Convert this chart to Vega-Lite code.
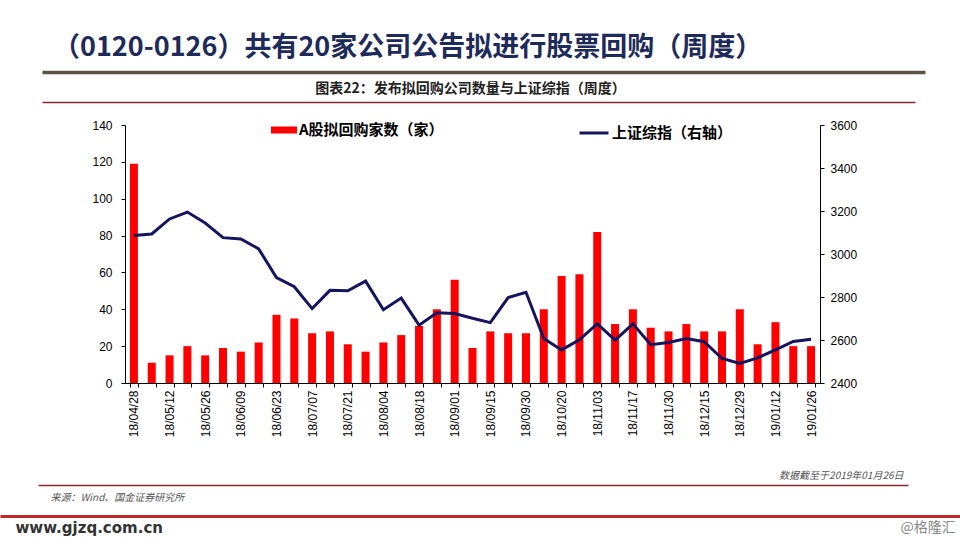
{
  "$schema": "https://vega.github.io/schema/vega-lite/v6.json",
  "width": 883,
  "height": 258,
  "autosize": {"type": "none"},
  "padding": {"left": 42, "top": 125, "right": 35, "bottom": 157},
  "background": "white",
  "title": {
    "text": "（0120-0126）共有20家公司公告拟进行股票回购（周度）",
    "anchor": "start",
    "frame": "group",
    "baseline": "alphabetic",
    "offset": 11,
    "dx": 11,
    "dy": 22,
    "font": "Noto Sans CJK SC",
    "fontSize": 27,
    "fontWeight": "bold",
    "color": "#1E2B5A"
  },
  "data": {
    "values": [
      {"date": "18/04/28", "count": 119, "index": 3086},
      {"date": "18/05/05", "count": 11, "index": 3093},
      {"date": "18/05/12", "count": 15, "index": 3163},
      {"date": "18/05/19", "count": 20, "index": 3195},
      {"date": "18/05/26", "count": 15, "index": 3144},
      {"date": "18/06/02", "count": 19, "index": 3076},
      {"date": "18/06/09", "count": 17, "index": 3070},
      {"date": "18/06/16", "count": 22, "index": 3024},
      {"date": "18/06/23", "count": 37, "index": 2890},
      {"date": "18/06/30", "count": 35, "index": 2848},
      {"date": "18/07/07", "count": 27, "index": 2746},
      {"date": "18/07/14", "count": 28, "index": 2831},
      {"date": "18/07/21", "count": 21, "index": 2829},
      {"date": "18/07/28", "count": 17, "index": 2874},
      {"date": "18/08/04", "count": 22, "index": 2741},
      {"date": "18/08/11", "count": 26, "index": 2795},
      {"date": "18/08/18", "count": 31, "index": 2669},
      {"date": "18/08/25", "count": 40, "index": 2727},
      {"date": "18/09/01", "count": 56, "index": 2723},
      {"date": "18/09/08", "count": 19, "index": 2701},
      {"date": "18/09/15", "count": 28, "index": 2681},
      {"date": "18/09/22", "count": 27, "index": 2797},
      {"date": "18/09/30", "count": 27, "index": 2822},
      {"date": "18/10/13", "count": 40, "index": 2607},
      {"date": "18/10/20", "count": 58, "index": 2554},
      {"date": "18/10/27", "count": 59, "index": 2601},
      {"date": "18/11/03", "count": 82, "index": 2676},
      {"date": "18/11/10", "count": 32, "index": 2599},
      {"date": "18/11/17", "count": 40, "index": 2675},
      {"date": "18/11/24", "count": 30, "index": 2578},
      {"date": "18/11/30", "count": 28, "index": 2588},
      {"date": "18/12/08", "count": 32, "index": 2607},
      {"date": "18/12/15", "count": 28, "index": 2592},
      {"date": "18/12/22", "count": 28, "index": 2514},
      {"date": "18/12/29", "count": 40, "index": 2491},
      {"date": "19/01/05", "count": 21, "index": 2517},
      {"date": "19/01/12", "count": 33, "index": 2554},
      {"date": "19/01/19", "count": 20, "index": 2593},
      {"date": "19/01/26", "count": 20, "index": 2604}
    ]
  },
  "layer": [
    {
      "mark": {"type": "bar"},
      "encoding": {
        "x": {
          "field": "date", "type": "ordinal", "sort": null,
          "scale": {"range": [83, 778], "paddingInner": 0.55, "paddingOuter": 0.275, "align": 0.5},
          "axis": {
            "orient": "bottom", "domain": false, "ticks": true, "tickBand": "extent",
            "tickSize": 4, "tickColor": "#000000",
            "labelAngle": 270, "labelAlign": "right", "labelBaseline": "middle", "labelPadding": 3,
            "labelFont": "Liberation Sans", "labelFontSize": 12, "labelColor": "#000000", "labelOverlap": false,
            "labelExpr": "indexof(['18/04/28','18/05/12','18/05/26','18/06/09','18/06/23','18/07/07','18/07/21','18/08/04','18/08/18','18/09/01','18/09/15','18/09/30','18/10/20','18/11/03','18/11/17','18/11/30','18/12/15','18/12/29','19/01/12','19/01/26'], datum.value) >= 0 ? datum.label : ''",
            "title": "数据截至于2019年01月26日",
            "titleX": 861, "titleY": 92, "titleAlign": "right", "titleBaseline": "middle",
            "titleFont": "Noto Sans CJK SC", "titleFontSize": 10, "titleFontStyle": "italic",
            "titleFontWeight": "normal", "titleColor": "#555555"
          }
        },
        "y": {
          "field": "count", "type": "quantitative",
          "scale": {"domain": [0, 140], "nice": false},
          "axis": {
            "orient": "left", "offset": -83, "values": [0, 20, 40, 60, 80, 100, 120, 140], "format": "d",
            "domain": true, "domainColor": "#000000", "ticks": true, "tickSize": 4, "tickColor": "#000000",
            "labelPadding": 9, "labelFont": "Liberation Sans", "labelFontSize": 12, "labelColor": "#000000",
            "grid": false, "title": null
          }
        },
        "color": {
          "datum": "A股拟回购家数（家）",
          "scale": {"range": ["#FF0000"]},
          "legend": {
            "orient": "none", "legendX": 229, "legendY": -8, "title": null, "padding": 0,
            "symbolType": "M-1,-0.27L1,-0.27L1,0.27L-1,0.27Z", "symbolSize": 676, "symbolStrokeWidth": 0,
            "labelFont": "Noto Sans CJK SC", "labelFontSize": 15, "labelFontWeight": "bold",
            "labelColor": "#000000", "labelOffset": 2, "labelLimit": 300
          }
        }
      }
    },
    {
      "mark": {"type": "line", "strokeWidth": 3},
      "encoding": {
        "x": {
          "field": "date", "type": "ordinal", "sort": null,
          "scale": {"range": [83, 778], "paddingInner": 0.55, "paddingOuter": 0.275, "align": 0.5},
          "axis": null
        },
        "y": {
          "field": "index", "type": "quantitative",
          "scale": {"domain": [2400, 3600], "nice": false, "zero": false},
          "axis": {
            "orient": "right", "offset": -105, "values": [2400, 2600, 2800, 3000, 3200, 3400, 3600], "format": "d",
            "domain": true, "domainColor": "#000000", "ticks": true, "tickSize": 4, "tickColor": "#000000",
            "labelPadding": 6, "labelFont": "Liberation Sans", "labelFontSize": 12, "labelColor": "#000000",
            "grid": false, "title": null
          }
        },
        "stroke": {
          "datum": "上证综指（右轴）",
          "scale": {"range": ["#14145F"]},
          "legend": {
            "orient": "none", "legendX": 536, "legendY": -8, "title": null, "padding": 0,
            "symbolType": "stroke", "symbolSize": 841, "symbolStrokeWidth": 3,
            "labelFont": "Noto Sans CJK SC", "labelFontSize": 15, "labelFontWeight": "bold",
            "labelColor": "#000000", "labelOffset": 2, "labelLimit": 300
          }
        }
      }
    },
    {
      "mark": {"type": "rule", "opacity": 0},
      "encoding": {
        "x": {
          "datum": 0, "type": "quantitative",
          "scale": {"domain": [0, 1], "range": [83, 778]},
          "axis": {"orient": "bottom", "offset": 0, "domain": true, "domainColor": "#000000", "domainWidth": 1,
                   "ticks": false, "tickSize": 0, "labels": false, "title": null, "grid": false}
        }
      }
    },
    {
      "mark": {"type": "rule", "opacity": 0},
      "encoding": {
        "x": {
          "datum": 0, "type": "quantitative",
          "scale": {"domain": [0, 1], "range": [0, 883]},
          "axis": {"orient": "top", "offset": 53, "domain": true, "domainColor": "#5B5247", "domainWidth": 3.5,
                   "ticks": false, "tickSize": 0, "labels": false, "title": null, "grid": false}
        }
      }
    },
    {
      "mark": {"type": "rule", "opacity": 0},
      "encoding": {
        "x": {
          "datum": 0, "type": "quantitative",
          "scale": {"domain": [0, 1], "range": [0, 873]},
          "axis": {"orient": "top", "offset": 23, "domain": true, "domainColor": "#8B2A2A", "domainWidth": 1.5,
                   "ticks": false, "tickSize": 0, "labels": false, "grid": false,
                   "title": "图表22：发布拟回购公司数量与上证综指（周度）",
                   "titleX": 428, "titleY": -14, "titleAlign": "center", "titleBaseline": "middle",
                   "titleFont": "Noto Sans CJK SC", "titleFontSize": 14, "titleFontWeight": "bold", "titleColor": "#222222"}
        }
      }
    },
    {
      "mark": {"type": "rule", "opacity": 0},
      "encoding": {
        "x": {
          "datum": 0, "type": "quantitative",
          "scale": {"domain": [0, 1], "range": [-4, 866]},
          "axis": {"orient": "bottom", "offset": 102, "domain": true, "domainColor": "#8B2A2A", "domainWidth": 1.5,
                   "ticks": false, "tickSize": 0, "labels": false, "grid": false,
                   "title": "来源：Wind、国金证券研究所",
                   "titleX": 8, "titleY": 12, "titleAlign": "left", "titleBaseline": "middle",
                   "titleFont": "Noto Sans CJK SC", "titleFontSize": 10, "titleFontStyle": "italic",
                   "titleFontWeight": "normal", "titleColor": "#555555"}
        }
      }
    },
    {
      "mark": {"type": "rule", "opacity": 0},
      "encoding": {
        "x": {
          "datum": 0, "type": "quantitative",
          "scale": {"domain": [0, 1], "range": [-42, 918]},
          "axis": {"orient": "bottom", "offset": 133, "domain": true, "domainColor": "#C0282D", "domainWidth": 3,
                   "ticks": false, "tickSize": 0, "grid": false,
                   "labels": true, "values": [0.995], "labelExpr": "'@格隆汇'", "labelAlign": "right",
                   "labelBaseline": "top", "labelPadding": 4, "labelFlush": false,
                   "labelFont": "Noto Sans CJK SC", "labelFontSize": 14, "labelColor": "#888888",
                   "title": "www.gjzq.com.cn",
                   "titleX": -27, "titleY": 11, "titleAlign": "left", "titleBaseline": "middle",
                   "titleFont": "DejaVu Sans", "titleFontSize": 15, "titleFontWeight": "bold", "titleColor": "#333333"}
        }
      }
    }
  ],
  "resolve": {
    "scale": {"x": "independent", "y": "independent"},
    "axis": {"x": "independent", "y": "independent"}
  },
  "config": {"view": {"stroke": null}, "axis": {"grid": false}}
}
